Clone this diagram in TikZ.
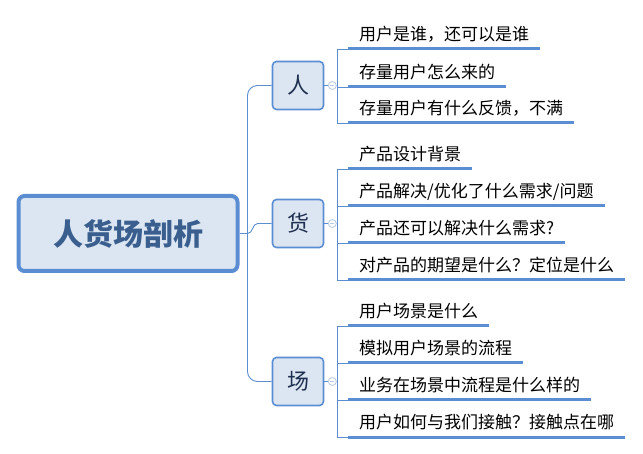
\documentclass[tikz,border=0pt]{standalone}
\usepackage{fontspec}
\setmainfont{Noto Sans CJK SC}
\definecolor{boxline}{HTML}{5B8DD3}
\definecolor{boxfill}{HTML}{DCE6F2}
\definecolor{roottext}{HTML}{3A5F8F}
\definecolor{boxtext}{HTML}{1F2F4F}
\definecolor{toggle}{HTML}{B8C8E4}
\tikzset{
  rootbox/.style={draw=boxline,fill=boxfill,line width=4pt,rounded corners=6pt,
    minimum width=219pt,minimum height=75pt,text=roottext,
    font=\fontsize{30}{34}\selectfont\bfseries},
  topicbox/.style={draw=boxline,fill=boxfill,line width=1.6pt,rounded corners=4pt,
    minimum width=51pt,minimum height=48pt,text=boxtext,
    font=\fontsize{22}{26}\selectfont},
  leaf/.style={anchor=south west,inner xsep=11pt,inner ysep=6pt,
    text height=0.8em,text depth=0.2em,font=\fontsize{17}{20}\selectfont},
  uline/.style={draw=boxline,line width=3pt},
  branch/.style={draw=boxline,line width=0.9pt},
  togglebox/.style={circle,draw=toggle,fill=white,line width=0.8pt,
    minimum size=8pt,inner sep=0pt}
}
\begin{document}
\begin{tikzpicture}[x=1pt,y=-1pt]
\useasboundingbox (0,0) rectangle (643,454);

\node[rootbox] (root) at (128,233.5) {人货场剖析};

\node[topicbox] (ren) at (298,85.5) {人};
\node[topicbox] (huo) at (298,223.5) {货};
\node[topicbox] (chang) at (298,381.5) {场};

% trunk
\coordinate (fork) at ([xshift=8pt]root.east);
\draw[branch] (root.east) -- (fork);
\draw[branch,rounded corners=10pt] (fork) |- (ren.west);
\draw[branch,rounded corners=10pt] (fork) |- (chang.west);
\draw[branch] (fork) to[out=0,in=180] ([xshift=-14pt]huo.west) -- (huo.west);

% collapse toggles
\foreach \n in {ren,huo,chang} {
  \node[togglebox] (tg-\n) at ([xshift=8pt]\n.east) {};
  \draw[toggle,line width=0.8pt] ([xshift=-2pt]tg-\n.center) -- ([xshift=2pt]tg-\n.center);
  \draw[branch] (\n.east) -- (tg-\n.west);
}

% leaves of ren
\foreach \y/\t [count=\i] in {49/{用户是谁，还可以是谁},87/{存量用户怎么来的},123/{存量用户有什么反馈，不满}} {
  \node[leaf] (ren-\i) at (348,\y) {\t};
  \draw[uline] (ren-\i.south west) -- (ren-\i.south east);
  \draw[branch] (tg-ren.east) -- ++(1,0) |- (ren-\i.south west);
}

% leaves of huo
\foreach \y/\t [count=\i] in {169/{产品设计背景},206/{产品解决/优化了什么需求/问题},243/{产品还可以解决什么需求?},280/{对产品的期望是什么？定位是什么}} {
  \node[leaf] (huo-\i) at (348,\y) {\t};
  \draw[uline] (huo-\i.south west) -- (huo-\i.south east);
  \draw[branch] (tg-huo.east) -- ++(1,0) |- (huo-\i.south west);
}

% leaves of chang
\foreach \y/\t [count=\i] in {326/{用户场景是什么},363/{模拟用户场景的流程},400/{业务在场景中流程是什么样的},437/{用户如何与我们接触？接触点在哪}} {
  \node[leaf] (chang-\i) at (348,\y) {\t};
  \draw[uline] (chang-\i.south west) -- (chang-\i.south east);
  \draw[branch] (tg-chang.east) -- ++(1,0) |- (chang-\i.south west);
}
\end{tikzpicture}
\end{document}
